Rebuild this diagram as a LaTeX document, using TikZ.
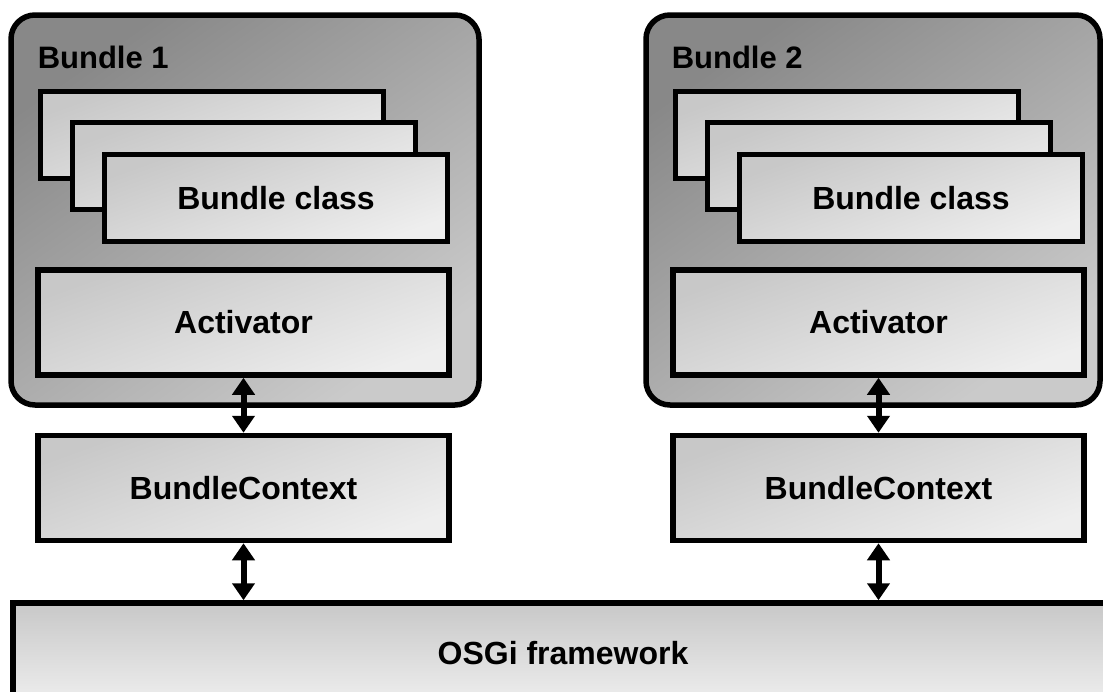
\documentclass[tikz,border=0pt]{standalone}
\usepackage{fontspec}
\setmainfont{Liberation Sans}
\usepackage{xcolor}
\usetikzlibrary{
arrows.meta,
positioning
}
\definecolor{bundledark}{HTML}{888888}
\definecolor{bundlelight}{HTML}{CACACA}
\definecolor{boxdark}{HTML}{C8C8C8}
\definecolor{boxlight}{HTML}{EEEEEE}

\begin{document}
\begin{tikzpicture}[
    x=1pt, y=-1pt,
    line width=5.5pt,
    >={Triangle[width=22pt,length=17pt]},
    link/.style={<->, line width=6pt},
    bundle/.style={draw,
      rounded corners=24pt,
      top color=bundledark, bottom color=bundlelight, shading angle=35,
      minimum height=390pt},
    box/.style={draw,
      top color=boxdark, bottom color=boxlight, shading angle=20,
      font=\bfseries\fontsize{32}{36}\selectfont,
      inner sep=0pt,
      minimum width=411pt,
      minimum height=105pt},
    classbox/.style={box, minimum width=343pt, minimum height=87pt},
    title/.style={anchor=base west, inner sep=0pt, font=\bfseries\fontsize{31}{36}\selectfont}
  ]
  \clip (0,0) rectangle (1103,691);
  % bundles
  \node[bundle, minimum width=468pt] (b1) at (245,210) {};
  \node[bundle, minimum width=454pt] (b2) at (873,210) {};
  \node[title] (b1title) at (35,68) {Bundle 1};
  \node[title] (b2title) at (669,68) {Bundle 2};

  \node[classbox] (cls1a) at (212,135) {};
  \node[classbox] (cls1b) at (244,166) {};
  \node[classbox] (cls1c) at (276,198) {Bundle class};
  \node[classbox] (cls2a) at (847,135) {};
  \node[classbox] (cls2b) at (879,166) {};
  \node[classbox] (cls2c) at (911,198) {Bundle class};

  \node[box] (act1) at (243.5,322.5) {Activator};
  \node[box] (act2) at (878.5,322.5) {Activator};
  \node[box, below=55pt of act1] (ctx1) {BundleContext};
  \node[box, below=55pt of act2] (ctx2) {BundleContext};

  \node[draw, top color=boxdark, bottom color=boxlight,
    font=\bfseries\fontsize{32}{36}\selectfont,
    minimum width=1100pt, minimum height=100pt, inner sep=0pt] (osgi) at (563,653) {OSGi framework};

  \draw[link] (act1.south) -- (ctx1.north);
  \draw[link] (act2.south) -- (ctx2.north);
  \draw[link] (ctx1.south) -- (ctx1.south |- osgi.north);
  \draw[link] (ctx2.south) -- (ctx2.south |- osgi.north);
\end{tikzpicture}
\end{document}
